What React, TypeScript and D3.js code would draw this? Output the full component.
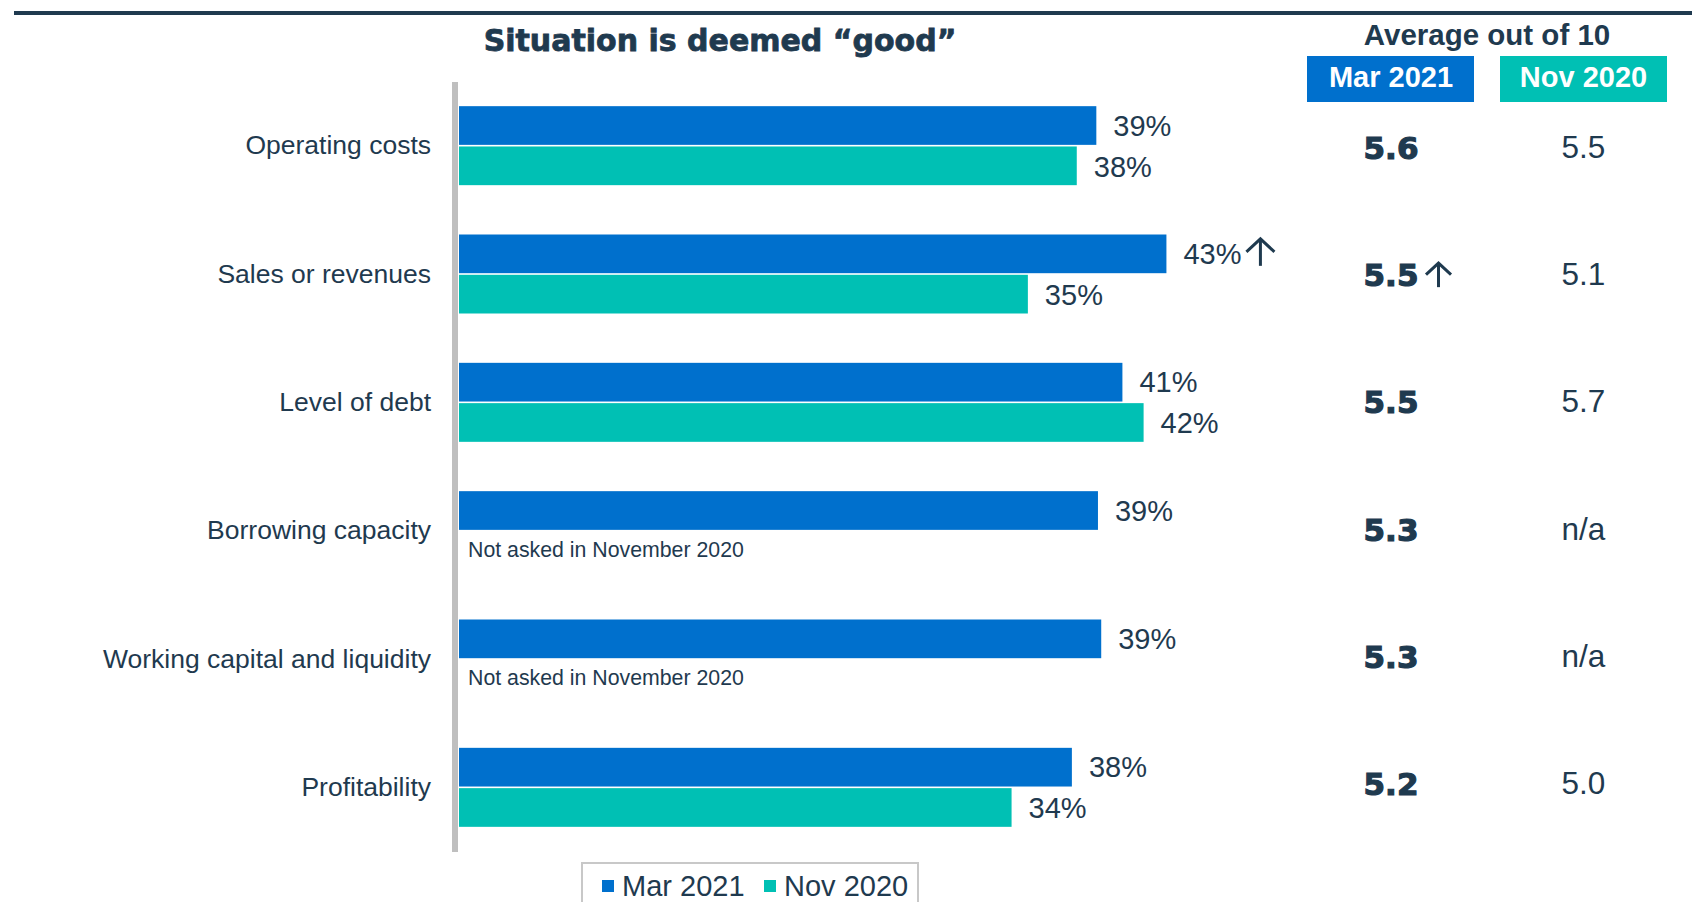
import React from "react";
import * as d3 from "d3";

const categories = [
  "Operating costs",
  "Sales or revenues",
  "Level of debt",
  "Borrowing capacity",
  "Working capital and liquidity",
  "Profitability",
];
const mar2021 = [39.1, 43.4, 40.7, 39.2, 39.4, 37.6];
const nov2020: (number | null)[] = [37.9, 34.9, 42.0, null, null, 33.9];
const barUpArrow = [false, true, false, false, false, false];
const avgMar = ["5.6", "5.5", "5.5", "5.3", "5.3", "5.2"];
const avgNov = ["5.5", "5.1", "5.7", "n/a", "n/a", "5.0"];
const avgUpArrow = [false, true, false, false, false, false];
const seriesNames = ["Mar 2021", "Nov 2020"];
const notAskedText = "Not asked in November 2020";

const W = 1692;
const H = 902;
const BLUE = "#0070cd";
const TEAL = "#00c0b4";
const NAVY = "#1f3a4f";
const SANS = "'Liberation Sans', Arial, sans-serif";
const HEAVY = "'DejaVu Sans', sans-serif";

function UpArrow({ cx, top, size, sw }: { cx: number; top: number; size: number; sw: number }) {
  const h = size / 2;
  return (
    <g stroke={NAVY} strokeWidth={sw} fill="none" strokeLinecap="butt">
      <line x1={cx} y1={top + 1} x2={cx} y2={top + size} />
      <polyline points={`${cx - h},${top + h} ${cx},${top + 1} ${cx + h},${top + h}`} />
    </g>
  );
}

export default function App() {
  const x = d3.scaleLinear().domain([0, 50]).range([459, 459 + 50 * 16.3]);
  const y = d3.scaleBand<string>().domain(categories).range([82, 852]).padding(0);
  const yTable = d3.scaleBand<string>().domain(categories).range([83.2, 847]).padding(0);
  const sub = d3.scaleBand<string>().domain(seriesNames).range([-40, 39]).paddingInner(0.04);
  const barH = sub.bandwidth();
  const colMar = 1391;
  const colNov = 1583.5;

  return (
    <svg width={W} height={H} style={{ position: "absolute", left: 0, top: 0, background: "#fff" }}>
      {/* top rule */}
      <rect x={14} y={11} width={W - 14} height={4} fill={NAVY} />

      {/* title */}
      <text
        x={720}
        y={51}
        textAnchor="middle"
        fontFamily={HEAVY}
        fontWeight="bold"
        fontSize={30}
        fill={NAVY}
        stroke={NAVY}
        strokeWidth={0.8}
      >
        Situation is deemed “good”
      </text>

      {/* right table header */}
      <text x={1487} y={45} textAnchor="middle" fontFamily={SANS} fontWeight="bold" fontSize={29.5} fill={NAVY}>
        Average out of 10
      </text>
      <rect x={1307} y={56} width={167} height={46} fill={BLUE} />
      <rect x={1500} y={56} width={167} height={46} fill={TEAL} />
      <text x={colMar} y={87} textAnchor="middle" fontFamily={SANS} fontWeight="bold" fontSize={29} fill="#fff">
        {seriesNames[0]}
      </text>
      <text x={colNov} y={87} textAnchor="middle" fontFamily={SANS} fontWeight="bold" fontSize={29} fill="#fff">
        {seriesNames[1]}
      </text>

      {/* axis line */}
      <rect x={452} y={82} width={6} height={770} fill="#bfbfbf" />

      {categories.map((c, i) => {
        const cy = (y(c) as number) + y.bandwidth() / 2;
        const ty = (yTable(c) as number) + yTable.bandwidth() / 2;
        const marTop = cy + (sub(seriesNames[0]) as number);
        const novTop = cy + (sub(seriesNames[1]) as number);
        const nv = nov2020[i];
        const marLabelX = x(mar2021[i]) + 17;
        return (
          <g key={c}>
            <text x={431} y={cy + 8} textAnchor="end" fontFamily={SANS} fontSize={26.5} fill={NAVY}>
              {c}
            </text>
            <rect x={x(0)} y={marTop} width={x(mar2021[i]) - x(0)} height={barH} fill={BLUE} />
            <text x={marLabelX} y={marTop + barH / 2 + 10} fontFamily={SANS} fontSize={29} fill={NAVY}>
              {Math.round(mar2021[i])}%
            </text>
            {barUpArrow[i] && (
              <UpArrow cx={marLabelX + 77} top={marTop + barH / 2 - 16} size={28} sw={3} />
            )}
            {nv !== null ? (
              <>
                <rect x={x(0)} y={novTop} width={x(nv) - x(0)} height={barH} fill={TEAL} />
                <text x={x(nv) + 17} y={novTop + barH / 2 + 11} fontFamily={SANS} fontSize={29} fill={NAVY}>
                  {Math.round(nv)}%
                </text>
              </>
            ) : (
              <text x={468} y={novTop + barH / 2 + 6} fontFamily={SANS} fontSize={21.3} fill={NAVY}>
                {notAskedText}
              </text>
            )}
            <text
              x={colMar}
              y={ty + 12}
              textAnchor="middle"
              fontFamily={HEAVY}
              fontWeight="bold"
              fontSize={31}
              fill={NAVY}
              stroke={NAVY}
              strokeWidth={1.2}
            >
              {avgMar[i]}
            </text>
            {avgUpArrow[i] && <UpArrow cx={1438.5} top={ty - 12} size={25} sw={3} />}
            <text x={colNov} y={ty + 11} textAnchor="middle" fontFamily={SANS} fontSize={31.5} fill={NAVY}>
              {avgNov[i]}
            </text>
          </g>
        );
      })}

      {/* legend */}
      <rect x={582} y={863} width={336} height={60} fill="#fff" stroke="#c8c8c8" strokeWidth={2} />
      <rect x={602} y={880} width={12} height={12} fill={BLUE} />
      <text x={622} y={896} fontFamily={SANS} fontSize={29} fill={NAVY}>
        {seriesNames[0]}
      </text>
      <rect x={764} y={880} width={12} height={12} fill={TEAL} />
      <text x={784} y={896} fontFamily={SANS} fontSize={29} fill={NAVY}>
        {seriesNames[1]}
      </text>
    </svg>
  );
}
